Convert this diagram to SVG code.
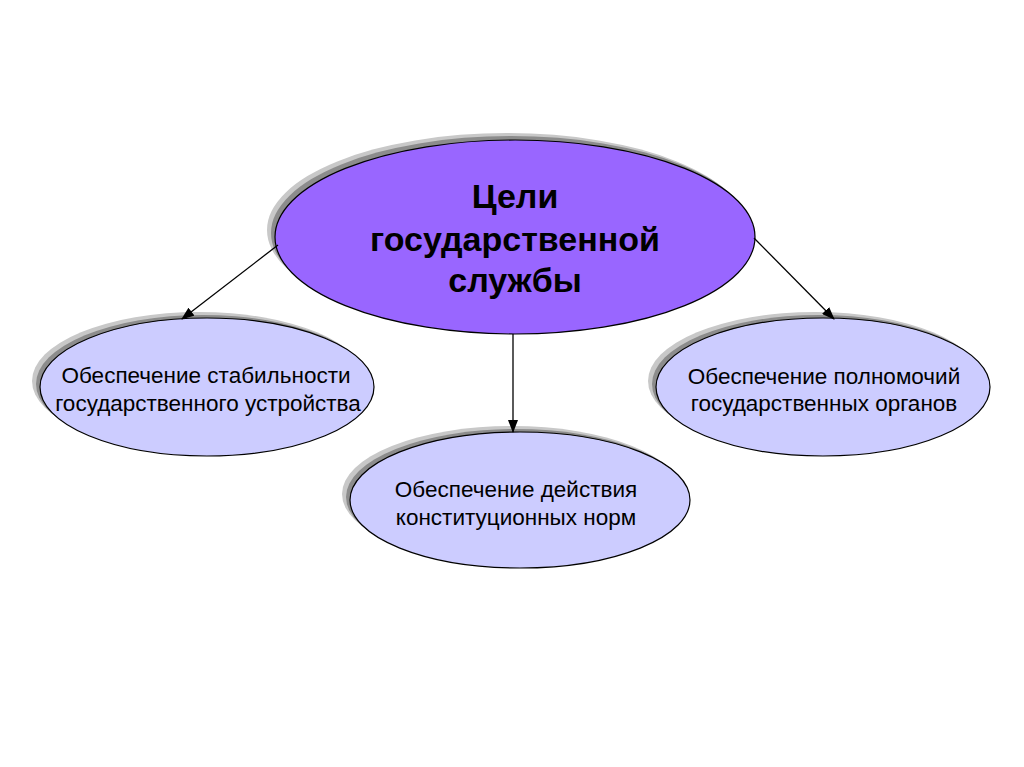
<svg xmlns="http://www.w3.org/2000/svg" width="1024" height="767" viewBox="0 0 1024 767">
<style>
.sh1{fill:#c8c8c8}
.sh2{fill:#8c8c8c}
.main{fill:#9966ff;stroke:#000;stroke-width:1.2}
.sub{fill:#ccccff;stroke:#000;stroke-width:1.2}
.t{font-family:"Liberation Sans",Arial,sans-serif;fill:#000;text-anchor:middle}
.tm{font-size:34px;font-weight:bold}
.ts{font-size:22.5px}
.c{stroke:#000;stroke-width:1.3;fill:none;marker-end:url(#ah)}
</style>
<defs>
<marker id="ah" markerWidth="13" markerHeight="10" refX="12" refY="5" orient="auto" markerUnits="userSpaceOnUse">
<path d="M0,0 L13,5 L0,10 z" fill="#000"/>
</marker>
</defs>
<rect width="1024" height="767" fill="#fff"/>
<g id="node-main">
<ellipse class="sh1" cx="507" cy="230" rx="240" ry="97"/>
<ellipse class="sh2" cx="511" cy="233" rx="240" ry="97"/>
<ellipse class="main" cx="515" cy="237" rx="240" ry="97"/>
<text class="t tm" x="515" y="208">Цели</text>
<text class="t tm" x="515" y="251">государственной</text>
<text class="t tm" x="515" y="292">службы</text>
</g>
<g id="node-left">
<ellipse class="sh1" cx="199" cy="381" rx="167" ry="69"/>
<ellipse class="sh2" cx="203" cy="384" rx="167" ry="69"/>
<ellipse class="sub" cx="207" cy="387" rx="167" ry="69"/>
<text class="t ts" x="206" y="383">Обеспечение стабильности</text>
<text class="t ts" x="208" y="411">государственного устройства</text>
</g>
<g id="node-middle">
<ellipse class="sh1" cx="512" cy="494" rx="170" ry="68"/>
<ellipse class="sh2" cx="516" cy="497" rx="170" ry="68"/>
<ellipse class="sub" cx="520" cy="500" rx="170" ry="68"/>
<text class="t ts" x="516" y="497">Обеспечение действия</text>
<text class="t ts" x="516" y="525">конституционных норм</text>
</g>
<g id="node-right">
<ellipse class="sh1" cx="815" cy="381" rx="167" ry="69"/>
<ellipse class="sh2" cx="819" cy="384" rx="167" ry="69"/>
<ellipse class="sub" cx="823" cy="387" rx="167" ry="69"/>
<text class="t ts" x="824" y="384">Обеспечение полномочий</text>
<text class="t ts" x="824" y="411">государственных органов</text>
</g>
<g id="connectors">
<line class="c" x1="278" y1="245" x2="182" y2="319"/>
<line class="c" x1="513" y1="334" x2="513" y2="432"/>
<line class="c" x1="754" y1="238" x2="834" y2="319"/>
</g>
</svg>
